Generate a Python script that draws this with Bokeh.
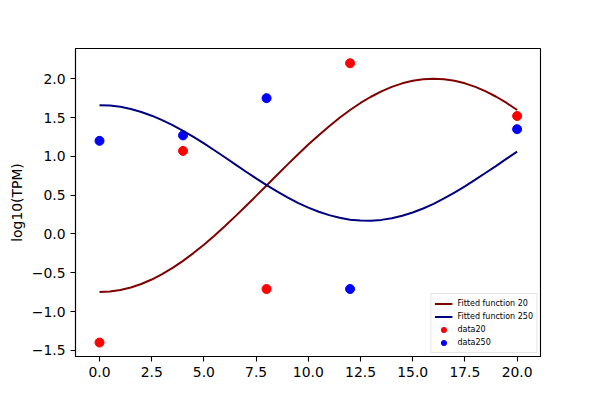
from bokeh.plotting import figure
from bokeh.models import Legend, LegendItem, SingleIntervalTicker, CustomJSTickFormatter, Range1d
from bokeh.embed import file_html
from bokeh.resources import INLINE

# Observed data
x_data = [0, 4, 8, 12, 20]
data20 = [-1.40, 1.07, -0.71, 2.20, 1.52]
data250 = [1.20, 1.27, 1.75, -0.71, 1.35]

# Fitted curves (values at each x)
x_fit = [0, 0.5, 1, 1.5, 2, 2.5, 3, 3.5, 4, 4.5, 5, 5.5, 6, 6.5, 7, 7.5, 8, 8.5, 9, 9.5,
         10, 10.5, 11, 11.5, 12, 12.5, 13, 13.5, 14, 14.5, 15, 15.5, 16, 16.5, 17, 17.5,
         18, 18.5, 19, 19.5, 20]
fit20 = [-0.750, -0.743, -0.724, -0.691, -0.645, -0.588, -0.518, -0.438, -0.347, -0.247,
         -0.139, -0.023, 0.098, 0.226, 0.357, 0.490, 0.625, 0.760, 0.893, 1.024,
         1.152, 1.273, 1.389, 1.497, 1.597, 1.688, 1.768, 1.838, 1.895, 1.941,
         1.974, 1.993, 2.000, 1.993, 1.974, 1.941, 1.895, 1.838, 1.768, 1.688, 1.597]
fit250 = [1.660, 1.654, 1.638, 1.610, 1.572, 1.524, 1.467, 1.402, 1.329, 1.250,
          1.166, 1.078, 0.988, 0.897, 0.805, 0.716, 0.630, 0.548, 0.471, 0.401,
          0.339, 0.286, 0.242, 0.208, 0.184, 0.172, 0.171, 0.181, 0.202, 0.234,
          0.276, 0.328, 0.388, 0.457, 0.532, 0.613, 0.699, 0.788, 0.878, 0.970, 1.060]

FONT = "DejaVu Sans"

p = figure(output_backend="svg", toolbar_location=None,
           frame_width=465, frame_height=308,
           min_border_left=75, min_border_right=60, min_border_top=48, min_border_bottom=44,
           x_range=Range1d(-1.15, 21.12), y_range=Range1d(-1.58, 2.39))
p.background_fill_color = "white"
p.border_fill_color = "white"
p.outline_line_color = "black"
p.outline_line_width = 1.1
p.xgrid.visible = False
p.ygrid.visible = False

fmt = CustomJSTickFormatter(code="return tick.toFixed(1).replace('-', '\\u2212');")
p.xaxis.ticker = SingleIntervalTicker(interval=2.5, num_minor_ticks=0)
p.yaxis.ticker = SingleIntervalTicker(interval=0.5, num_minor_ticks=0)
for ax in (p.xaxis[0], p.yaxis[0]):
    ax.formatter = fmt
    ax.major_tick_in = 0
    ax.major_tick_out = 5
    ax.minor_tick_in = 0
    ax.minor_tick_out = 0
    ax.major_tick_line_color = "black"
    ax.major_tick_line_width = 1.1
    ax.axis_line_color = "black"
    ax.axis_line_width = 1.1
    ax.major_label_text_font = FONT
    ax.major_label_text_font_size = "13.9px"
    ax.major_label_text_color = "black"
    ax.major_label_standoff = 5
p.yaxis.axis_label = "log10(TPM)"
p.yaxis.axis_label_text_font = FONT
p.yaxis.axis_label_text_font_size = "13.9px"
p.yaxis.axis_label_text_font_style = "normal"
p.yaxis.axis_label_text_color = "black"
p.yaxis.axis_label_standoff = 4

s20 = p.scatter(x_data, data20, size=9, color="red", line_color="red")
s250 = p.scatter(x_data, data250, size=9, color="blue", line_color="blue")
l20 = p.line(x_fit, fit20, line_color="#800000", line_width=2)
l250 = p.line(x_fit, fit250, line_color="#000080", line_width=2)

legend = Legend(items=[
    LegendItem(label="Fitted function 20", renderers=[l20]),
    LegendItem(label="Fitted function 250", renderers=[l250]),
    LegendItem(label="data20", renderers=[s20]),
    LegendItem(label="data250", renderers=[s250]),
], location="bottom_right")
legend.margin = 3
legend.padding = 3
legend.spacing = 0
legend.glyph_width = 18
legend.glyph_height = 13
legend.label_height = 13
legend.label_standoff = 5
legend.label_text_font = FONT
legend.label_text_font_size = "8px"
legend.label_text_color = "black"
legend.border_line_color = "#cccccc"
legend.border_line_width = 1
legend.background_fill_color = "white"
legend.background_fill_alpha = 0.8
p.add_layout(legend)

open("out.html", "w").write(file_html(p, INLINE))
